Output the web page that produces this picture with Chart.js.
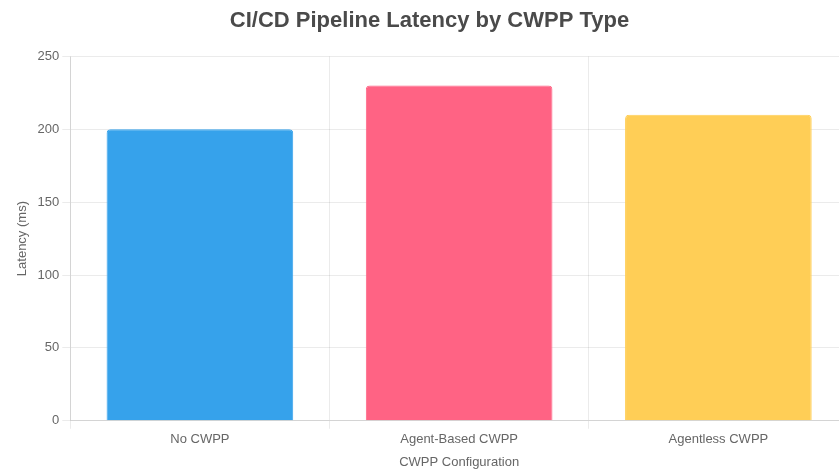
<!DOCTYPE html>
<html>
<head>
<meta charset="utf-8">
<script src="https://cdn.jsdelivr.net/npm/chart.js@4.4.1/dist/chart.umd.min.js"></script>
<style>
  html, body { margin: 0; padding: 0; background: #fff; overflow: hidden; }
  #wrap { width: 860px; height: 470px; position: relative; }
</style>
</head>
<body>
<div id="wrap"><canvas id="c"></canvas></div>
<script>
const categories = ['No CWPP', 'Agent-Based CWPP', 'Agentless CWPP'];
const latencyMs = [200, 230, 210];
const barColors = ['#36A2EB', '#FF6384', '#FFCE56'];
const yTicks = [0, 50, 100, 150, 200, 250];

Chart.defaults.font.family = '"Liberation Sans", Arial, Helvetica, sans-serif';

new Chart(document.getElementById('c'), {
  type: 'bar',
  data: {
    labels: categories,
    datasets: [{
      label: 'Latency (ms)',
      data: latencyMs,
      backgroundColor: barColors,
      borderColor: barColors,
      borderWidth: 1,
      borderRadius: 4
    }]
  },
  options: {
    responsive: true,
    maintainAspectRatio: false,
    animation: false,
    layout: { padding: { left: 11, right: 12, top: 0, bottom: 0 } },
    plugins: {
      legend: { display: false },
      title: {
        display: true,
        text: 'CI/CD Pipeline Latency by CWPP Type',
        font: { size: 22, weight: 'bold' },
        color: '#4a4a4a',
        padding: { top: 8, bottom: 22 }
      }
    },
    scales: {
      y: {
        min: yTicks[0],
        max: yTicks[yTicks.length - 1],
        ticks: { stepSize: 50, color: '#666', font: { size: 13 } },
        title: { display: true, text: 'Latency (ms)', color: '#666', font: { size: 13 } },
        grid: { color: 'rgba(0,0,0,0.08)' }
      },
      x: {
        ticks: { color: '#666', font: { size: 13 } },
        title: { display: true, text: 'CWPP Configuration', color: '#666', font: { size: 13 }, padding: { top: 4, bottom: 0 } },
        grid: { color: 'rgba(0,0,0,0.08)' }
      }
    }
  }
});
</script>
</body>
</html>
